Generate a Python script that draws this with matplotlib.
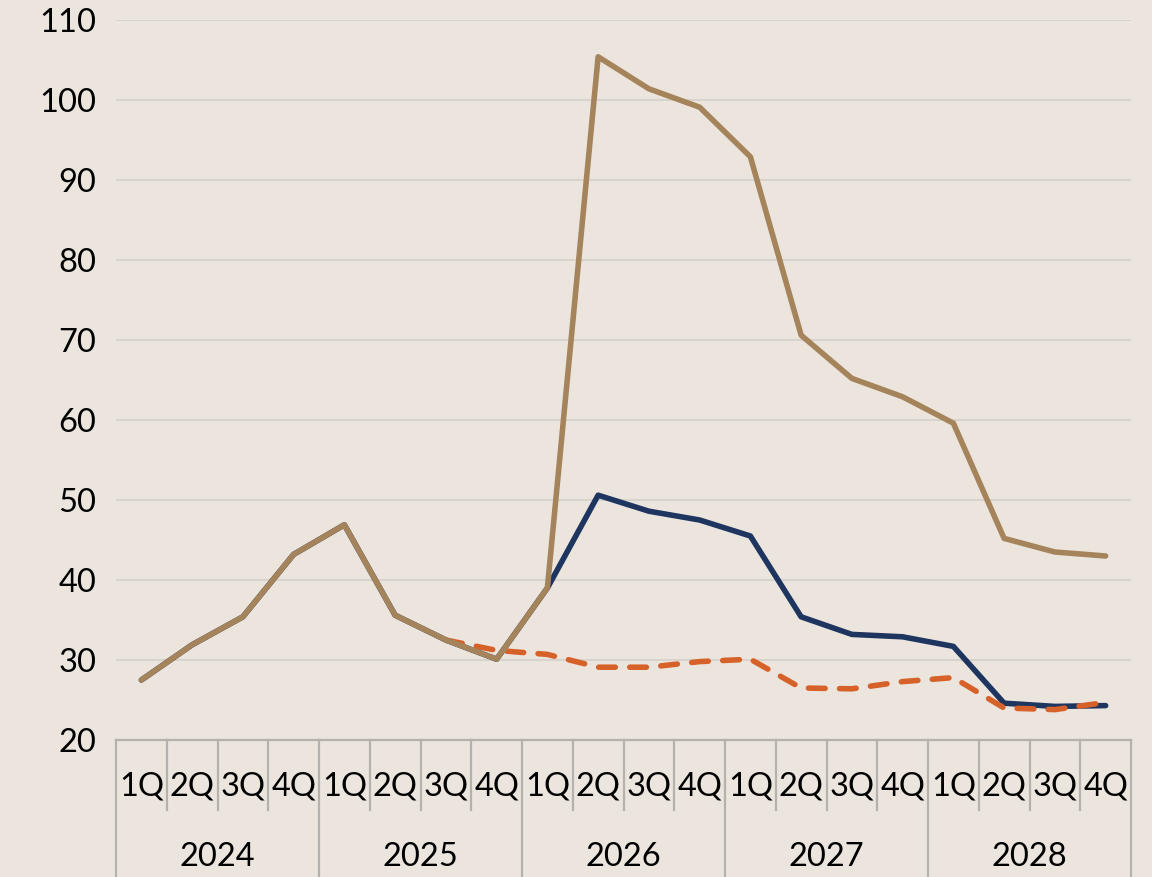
import matplotlib
matplotlib.use('Agg')
from matplotlib import pyplot as plt
from matplotlib.transforms import blended_transform_factory
import numpy as np

years = ['2024', '2025', '2026', '2027', '2028']
quarters = ['1Q', '2Q', '3Q', '4Q']

# tan: upper scenario
tan = [27.5, 31.9, 35.4, 43.2, 46.9, 35.6, 32.5, 30.1, 39.0, 105.4,
       101.4, 99.1, 92.9, 70.6, 65.2, 62.9, 59.6, 45.2, 43.5, 43.0]
# navy: middle scenario
navy = [27.5, 31.9, 35.4, 43.2, 46.9, 35.6, 32.5, 30.1, 39.0, 50.6,
        48.6, 47.5, 45.5, 35.4, 33.2, 32.9, 31.7, 24.6, 24.2, 24.3]
# orange dashed: baseline, starts at 3Q 2025
orange = [None, None, None, None, None, None, 32.5, 31.2, 30.7, 29.1,
          29.1, 29.8, 30.1, 26.5, 26.4, 27.3, 27.8, 24.0, 23.8, 24.7]

bg = '#ECE5DE'
plt.rcParams['font.family'] = ['Lato', 'DejaVu Sans']

fig = plt.figure(figsize=(11.52, 8.77), dpi=100, facecolor=bg)
ax = fig.add_axes([116/1152, 137/877, (1131-116)/1152, 720/877], facecolor=bg)

x = np.arange(len(tan))
xo = np.array([i for i, v in enumerate(orange) if v is not None])
yo = np.array([v for v in orange if v is not None])

ax.plot(x, tan, c='#A5845C', lw=4, solid_capstyle='round', solid_joinstyle='round', zorder=4)
ax.plot(x, navy, c='#1E3560', lw=4, solid_capstyle='round', solid_joinstyle='round', zorder=2)
ax.plot(xo, yo, c='#D6622A', lw=4, ls=(0, (3.0, 2.6)), dash_capstyle='round', zorder=3)

ax.set_xlim(-0.5, len(tan) - 0.5)
ax.set_ylim(20, 110)
ax.set_yticks(range(20, 111, 10))
ax.tick_params(axis='y', length=0, labelsize=23.5, pad=14)
ax.set_xticks([])
ax.grid(axis='y', color='#D8D3CD', lw=1.5)
ax.set_axisbelow(True)
for s in ax.spines.values():
    s.set_visible(False)

# category axis box
tr = blended_transform_factory(ax.transData, ax.transAxes)
lc = '#B5B2AE'
q_bot = -70/720
y_bot = -140/720
ax.plot([-0.5, len(tan) - 0.5], [0, 0], transform=tr, c=lc, lw=1.6, clip_on=False)
for i in range(len(tan) + 1):
    xb = i - 0.5
    yb = y_bot if i % 4 == 0 else q_bot
    ax.plot([xb, xb], [0, yb], transform=tr, c=lc, lw=1.6, clip_on=False)
for i in range(len(tan)):
    ax.text(i, -47/720, quarters[i % 4], transform=tr, ha='center', va='center', fontsize=23.5)
for k, yr in enumerate(years):
    ax.text(4*k + 1.5, -117/720, yr, transform=tr, ha='center', va='center', fontsize=23.5)

fig.savefig('out.png', dpi=100, facecolor=bg)
